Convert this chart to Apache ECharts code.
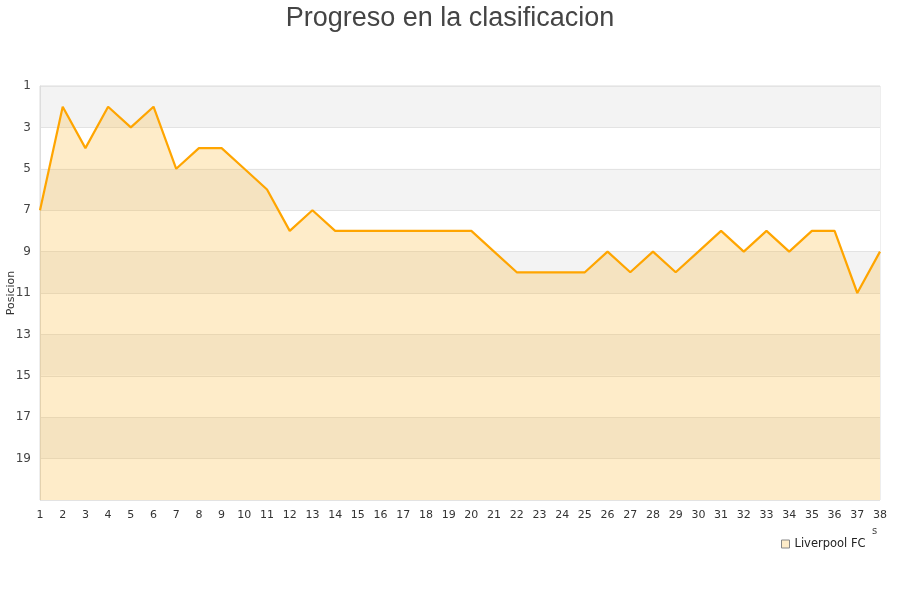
<!DOCTYPE html>
<html><head><meta charset="utf-8">
<script src="https://cdn.jsdelivr.net/npm/echarts@6/dist/echarts.min.js"></script>
<style>html,body{margin:0;padding:0;background:#fff}#c{width:900px;height:600px}</style>
</head><body><div id="c"></div>
<script>
const jornadas = ["1","2","3","4","5","6","7","8","9","10","11","12","13","14","15","16","17","18","19","20","21","22","23","24","25","26","27","28","29","30","31","32","33","34","35","36","37","38"];
const posiciones = [7,2,4,2,3,2,5,4,4,5,6,8,7,8,8,8,8,8,8,8,9,10,10,10,10,9,10,9,10,9,8,9,8,9,8,8,11,9];
const seriesName = "Liverpool FC";
const chartTitle = "Progreso en la clasificacion";
const yName = "Posicion";

const chart = echarts.init(document.getElementById('c'));
chart.setOption({
  animation: false,
  backgroundColor: '#fff',
  title: {
    text: chartTitle, left: 'center', top: 0,
    textStyle: {fontFamily: 'Liberation Sans, Arial, sans-serif', fontSize: 27, fontWeight: 'normal', color: '#444'}
  },
  grid: {left: 40, right: 20, top: 86, bottom: 100, show: true, borderColor: '#ddd', borderWidth: 1,
    backgroundColor: 'transparent', containLabel: false, outerBoundsMode: 'none'},
  legend: {
    data: [{name: seriesName, icon: 'rect'}],
    left: 776, top: 533, itemWidth: 8, itemHeight: 8, itemGap: 9,
    textStyle: {fontFamily: 'DejaVu Sans, sans-serif', fontSize: 11.5, color: '#222'},
    itemStyle: {color: '#feecc9', borderColor: '#888', borderWidth: 1}
  },
  xAxis: {
    type: 'category', data: jornadas, boundaryGap: false,
    axisLine: {show: false}, axisTick: {show: false},
    axisLabel: {fontFamily: 'DejaVu Sans, sans-serif', fontSize: 11, color: '#333', margin: 10, interval: 0},
    splitLine: {show: false}
  },
  yAxis: {
    type: 'value', inverse: true, min: 1, max: 21, interval: 2,
    axisLine: {show: true, lineStyle: {color: '#ddd'}}, axisTick: {show: false},
    axisLabel: {fontFamily: 'DejaVu Sans, sans-serif', fontSize: 12, color: '#444', margin: 9,
      formatter: v => v === 21 ? '' : v},
    splitLine: {show: true, lineStyle: {color: '#e3e3e3', width: 1}},
    splitArea: {show: true, areaStyle: {color: ['#f3f3f3', '#ffffff']}}
  },
  graphic: [
    {type: 'text', left: 872, top: 526, style: {text: 's', font: '10px DejaVu Sans', fill: '#444'}},
    {type: 'text', x: 11, y: 293, rotation: Math.PI / 2,
      style: {text: yName, font: '11px DejaVu Sans', fill: '#333', align: 'center', verticalAlign: 'middle'}}
  ],
  series: [{
    name: seriesName, type: 'line', data: posiciones,
    showSymbol: false, symbol: 'none',
    lineStyle: {color: '#ffa500', width: 2.2},
    itemStyle: {color: '#ffa500'},
    areaStyle: {color: 'rgb(251,179,39)', opacity: 0.25, origin: 'end'}
  }]
});
</script></body></html>
